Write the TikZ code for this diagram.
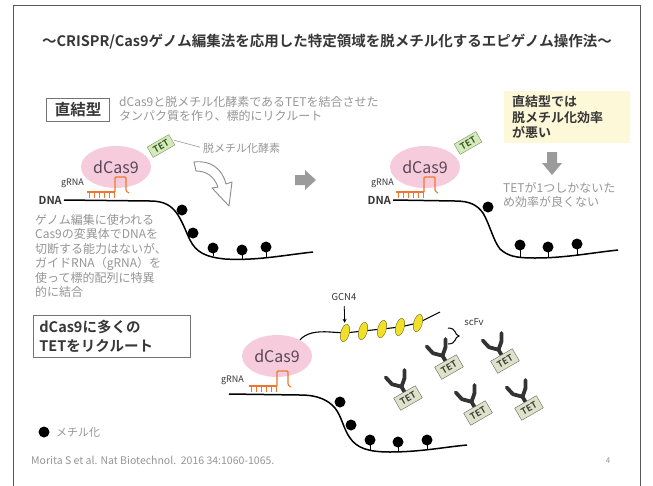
\documentclass[tikz,border=0pt]{standalone}
\usepackage{fontspec}
\setmainfont{Noto Sans CJK JP}[BoldFont={Noto Sans CJK JP Bold}]
\usetikzlibrary{shapes.geometric}

\definecolor{txtgray}{RGB}{150,150,150}
\definecolor{txtdark}{RGB}{55,55,55}
\definecolor{blobpink}{RGB}{246,204,220}
\definecolor{casfont}{RGB}{88,70,88}
\definecolor{rnaorange}{RGB}{240,118,48}
\definecolor{tetgreen}{RGB}{212,234,186}
\definecolor{tetedge}{RGB}{118,150,92}
\definecolor{tettext}{RGB}{58,88,40}
\definecolor{tetgray}{RGB}{222,226,200}
\definecolor{gcnyellow}{RGB}{240,224,40}
\definecolor{notebg}{RGB}{253,248,216}
\definecolor{arrgray}{RGB}{155,155,155}

\begin{document}
\begin{tikzpicture}[x=1pt, y=-1pt, >=stealth,
every node/.style={font=\fontsize{12}{14.4}\selectfont, inner sep=0pt},
note/.style={text=txtgray, align=left, anchor=west},
head/.style={draw=black!55, line width=0.8pt, inner xsep=8pt, inner ysep=4pt, text=txtdark, font=\fontsize{15.5}{18}\selectfont\bfseries},
blob/.style={ellipse, fill=blobpink, minimum width=70pt, minimum height=42pt, text=casfont, font=\fontsize{16}{16}\selectfont},
tetup/.style={draw=tetedge, fill=tetgreen, minimum width=25pt, minimum height=12pt, rotate=30, text=tettext, font=\fontsize{9}{9}\selectfont\bfseries},
tetlow/.style={transform shape, draw=black!60, fill=tetgray, minimum width=25pt, minimum height=14pt, text=black!75, font=\fontsize{9}{9}\selectfont\bfseries},
small/.style={text=txtdark, font=\fontsize{9}{9}\selectfont},
rna/.style={draw=rnaorange, line width=1.1pt},
dna/.style={draw=black, line width=1.5pt},
methyl/.style={circle, fill=black, minimum size=11pt},
ab/.style={draw=black!80, line width=3.8pt, line cap=round, line join=round},
gcn/.style={ellipse, draw=olive!70!black, fill=gcnyellow, minimum width=8.5pt, minimum height=18pt, rotate=-15}]
\fill[white] (0,0) rectangle (653,485);
\useasboundingbox (0,0) rectangle (653,485);
\draw[black!65, line width=0.9pt] (13,486) -- (13,5) -- (640,5) -- (640,486);
\node[text=txtdark, font=\fontsize{14.5}{16}\selectfont\bfseries] (title) at (327,42) {～CRISPR/Cas9ゲノム編集法を応用した特定領域を脱メチル化するエピゲノム操作法～};

% direct fusion
\node[head] (direct) at (78,110) {直結型};
\node[note] (desc) at (119,109) {dCas9と脱メチル化酵素であるTETを結合させた\\タンパク質を作り、標的にリクルート};
\node[blob] (casA) at (116,167) {dCas9};
\node[tetup] (tetA) at (161,146) {TET};
\node[note, font=\fontsize{11}{13}\selectfont] (enz) at (203,148) {脱メチル化酵素};
\draw[black!40, line width=0.6pt, shorten <=2pt, shorten >=3pt] (tetA.east) -- (enz.west);
\begin{scope}[shift={(115,200)}]
\draw[rna] (-28,-8) -- (0,-8);
\foreach \t in {-26,-21,...,-1} \draw[rna, line width=0.8pt] (\t,-8) -- (\t,-2);
\draw[rna, rounded corners=1pt] (0,-8) -- (0,-23) -- (11,-23) -- (11,-9) -- (14,-7);
\end{scope}
\node[small, anchor=east] (rnaA) at (84,183) {gRNA};
\node[small, anchor=east, font=\fontsize{11}{11}\selectfont\bfseries] (dnaA) at (62,200) {DNA};
\draw[dna] (64,200) -- (150,201) .. controls (165,201) and (172,206) .. (178,215) .. controls (184,225) and (186,232) .. (190,240) .. controls (196,252) and (205,257) .. (225,259) .. controls (255,261) and (285,255) .. (313,252);
\foreach \x/\y [count=\i] in {182/210, 193/233} \node[methyl] (mA\i) at (\x,\y) {};
\foreach \x/\y/\b [count=\i] in {213/248/256, 242/250/260, 266/247/258} {
  \draw[line width=1pt] (\x,\y) -- (\x,\b);
  \node[methyl] (sA\i) at (\x,\y) {};
}
\node[note] (cas9txt) at (35,256) {ゲノム編集に使われる\\Cas9の変異体でDNAを\\切断する能力はないが、\\ガイドRNA（gRNA）を\\使って標的配列に特異\\的に結合};
\filldraw[fill=white, draw=black!45, line width=0.9pt, line join=round] (194,162) .. controls (210,160) and (222,168) .. (226,184) -- (232,182) -- (229,206) -- (212,188) -- (218,187) .. controls (214,176) and (206,171) .. (196,171) -- cycle;
\fill[arrgray] (295,175) -- (305,175) -- (305,170) -- (316,180) -- (305,190) -- (305,185) -- (295,185) -- cycle;

% same, one TET only
\node[blob] (casR) at (425,167) {dCas9};
\node[tetup] (tetR) at (468,143) {TET};
\begin{scope}[shift={(424,200)}]
\draw[rna] (-28,-8) -- (0,-8);
\foreach \t in {-26,-21,...,-1} \draw[rna, line width=0.8pt] (\t,-8) -- (\t,-2);
\draw[rna, rounded corners=1pt] (0,-8) -- (0,-23) -- (11,-23) -- (11,-9) -- (14,-7);
\end{scope}
\node[small, anchor=east] (rnaR) at (394,183) {gRNA};
\node[small, anchor=east, font=\fontsize{11}{11}\selectfont\bfseries] (dnaR) at (391,200) {DNA};
\draw[dna] (393,200) -- (455,201) .. controls (470,201) and (477,205) .. (483,213) .. controls (490,225) and (493,240) .. (500,249) .. controls (508,256) and (515,258) .. (535,258) .. controls (565,258) and (590,253) .. (618,250);
\node[methyl] (mR1) at (488,207) {};
\foreach \x/\y/\b [count=\i] in {520/245/258, 548/247/258, 577/244/255} {
  \draw[line width=1pt] (\x,\y) -- (\x,\b);
  \node[methyl] (sR\i) at (\x,\y) {};
}
\node[fill=notebg, text width=110pt, minimum height=52pt, inner xsep=8pt, inner ysep=4pt, align=left, text=txtdark, font=\fontsize{13}{15.5}\selectfont\bfseries] (weak) at (567,117) {直結型では\\脱メチル化効率\\が悪い};
\fill[arrgray] (547,152) -- (557,152) -- (557,163) -- (562,163) -- (552,175) -- (542,163) -- (547,163) -- cycle;
\node[note] (reason) at (503,195) {TETが1つしかないた\\め効率が良くない};

% SunTag
\node[head, anchor=north west, text width=145pt, inner xsep=6pt, inner ysep=5pt, align=left, font=\fontsize{14.5}{19}\selectfont\bfseries] (many) at (33,315) {dCas9に多くの\\TETをリクルート};
\node[blob] (casB) at (277,356) {dCas9};
\begin{scope}[shift={(277,394)}]
\draw[rna] (-28,-8) -- (0,-8);
\foreach \t in {-26,-21,...,-1} \draw[rna, line width=0.8pt] (\t,-8) -- (\t,-2);
\draw[rna, rounded corners=1pt] (0,-8) -- (0,-23) -- (11,-23) -- (11,-9) -- (14,-7);
\end{scope}
\node[small, anchor=east] (rnaB) at (244,380) {gRNA};
\draw[dna] (229,394) -- (300,395) .. controls (318,395) and (328,400) .. (335,408) .. controls (342,417) and (343,428) .. (350,438) .. controls (357,448) and (368,452) .. (390,452) .. controls (420,452) and (445,447) .. (467,445);
\foreach \x/\y [count=\i] in {340/402, 351/425} \node[methyl] (mB\i) at (\x,\y) {};
\foreach \x/\y/\b [count=\i] in {370/440/451, 398/442/452, 427/440/449} {
  \draw[line width=1pt] (\x,\y) -- (\x,\b);
  \node[methyl] (sB\i) at (\x,\y) {};
}
\draw[line width=1.1pt] (casB.35) .. controls (306,333) and (316,331) .. (330,332) -- (345,333) -- (363,331) -- (382,329) -- (400,327) -- (418,323) -- (440,312);
\foreach \x/\y [count=\i] in {345/333, 363/331, 382/329, 400/327, 418/323} \node[gcn] (g\i) at (\x,\y) {};
\node[small, font=\fontsize{9.5}{9.5}\selectfont] (gcnlbl) at (344,297) {GCN4};
\draw[->, line width=0.8pt, shorten <=5pt, shorten >=2pt] (gcnlbl) -- (g1);
\node[small, font=\fontsize{9.5}{9.5}\selectfont] (scfv) at (474,322) {scFv};
\draw[line width=1pt] (448,328) .. controls (457,328) and (454,335) .. (459,336) .. controls (454,337) and (457,344) .. (448,344);
\foreach \x/\y [count=\i] in {449/367, 505/361, 408/398, 478/413, 529/408} {
  \begin{scope}[shift={(\x,\y)}, rotate=30]
    \draw[ab] (0,-7) -- (0,-13) -- (-7,-20) -- (-9,-29);
    \draw[ab] (0,-13) -- (7,-19) -- (11,-26);
    \node[tetlow] (tetB\i) at (0,0) {TET};
  \end{scope}
}

\node[methyl] (legdot) at (44,432) {};
\node[note, font=\fontsize{11}{11}\selectfont] (legtxt) at (56,432) {メチル化};
\node[note, font=\fontsize{10.5}{12}\selectfont] (cite) at (31,460) {Morita S et al. Nat Biotechnol.\ \ 2016 34:1060-1065.};
\node[text=txtgray, font=\fontsize{8}{8}\selectfont] (page) at (608,461) {4};
\end{tikzpicture}
\end{document}
